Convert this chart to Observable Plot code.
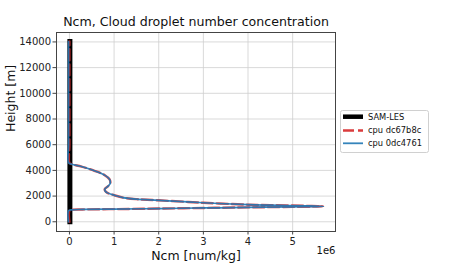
<!DOCTYPE html>
<html>
<head>
<meta charset="utf-8">
<script src="https://cdn.jsdelivr.net/npm/d3@7"></script>
<script src="https://cdn.jsdelivr.net/npm/@observablehq/plot@0.6"></script>
<style>
  html, body { margin: 0; padding: 0; background: white; }
</style>
</head>
<body>
<div id="chart"></div>
<script>
const title = "Ncm, Cloud droplet number concentration";
const xLabel = "Ncm [num/kg]";
const yLabel = "Height [m]";
const seriesNames = ["SAM-LES", "cpu dc67b8c", "cpu 0dc4761"];
const seriesColors = ["#000000", "#d62728", "#1f77b4"];

const xTicks = [0, 1e6, 2e6, 3e6, 4e6, 5e6];
const yTicks = [0, 2000, 4000, 6000, 8000, 10000, 12000, 14000];

// SAM-LES profile
const samHeight = [0, 2000, 4000, 6000, 8000, 10000, 12000, 14030];
const samNcm    = [0.01e6, 0.01e6, 0.01e6, 0.01e6, 0.01e6, 0.01e6, 0.01e6, 0.01e6];

// CLUBB profiles (path order, heights in m, Ncm in num/kg)
const profHeight = [0, 850, 930, 960, 985, 1030, 1075, 1120, 1160, 1195,
                    1240, 1290, 1330, 1480, 1670, 1760, 1880, 2070, 2250, 2400,
                    2540, 2750, 3000, 3300, 3630, 3970, 4300, 4480, 4600, 6000,
                    8000, 10000, 12000, 14030];
const ncmDc = [0, 0, 0.05e6, 0.3e6, 1.0e6, 2.0e6, 3.0e6, 4.0e6, 5.0e6, 5.68e6,
               5.3e6, 4.5e6, 4.0e6, 3.0e6, 2.0e6, 1.5e6, 1.2e6, 1.0e6, 0.85e6, 0.8e6,
               0.79e6, 0.86e6, 0.915e6, 0.9e6, 0.79e6, 0.56e6, 0.27e6, 0.05e6, 0, 0,
               0, 0, 0, 0];
const ncm0dc = [-0.02e6, -0.02e6, 0.05e6, 0.3e6, 1.0e6, 2.0e6, 3.0e6, 4.0e6, 5.0e6, 5.69e6,
               5.3e6, 4.5e6, 4.0e6, 3.0e6, 2.0e6, 1.5e6, 1.2e6, 1.0e6, 0.85e6, 0.8e6,
               0.79e6, 0.86e6, 0.915e6, 0.9e6, 0.79e6, 0.56e6, 0.27e6, 0.05e6, -0.02e6, -0.02e6,
               -0.02e6, -0.02e6, -0.02e6, -0.02e6];

const sam = samHeight.map((h, i) => ({h, v: samNcm[i]}));
const dc = profHeight.map((h, i) => ({h, v: ncmDc[i]}));
const zdc = profHeight.map((h, i) => ({h, v: ncm0dc[i]}));

const FONT = "DejaVu Sans, sans-serif";

const chart = Plot.plot({
  width: 450,
  height: 270,
  marginLeft: 56,
  marginRight: 115,
  marginTop: 32,
  marginBottom: 39,
  style: {fontFamily: FONT, fontSize: "9.5px", background: "white", color: "#222"},
  x: {domain: [-0.29e6, 5.96e6]},
  y: {domain: [-757, 14734]},
  marks: [
    Plot.gridX(xTicks, {stroke: "#cfcfcf", strokeOpacity: 1, strokeWidth: 0.8}),
    Plot.gridY(yTicks, {stroke: "#cfcfcf", strokeOpacity: 1, strokeWidth: 0.8}),
    Plot.line(sam, {x: "v", y: "h", stroke: seriesColors[0], strokeWidth: 5, strokeLinecap: "square"}),
    Plot.line(dc, {x: "v", y: "h", stroke: seriesColors[1], strokeWidth: 2.4, strokeOpacity: 0.8, strokeDasharray: "11,4", curve: "catmull-rom"}),
    Plot.line(zdc, {x: "v", y: "h", stroke: seriesColors[2], strokeWidth: 1.7, strokeOpacity: 0.9, curve: "catmull-rom"}),
    Plot.frame({stroke: "#444", strokeWidth: 1}),
    Plot.axisX(xTicks, {tickSize: 3.5, tickPadding: 3, tickFormat: d => String(d / 1e6), label: null, fontSize: 10, stroke: "#444"}),
    Plot.axisY(yTicks, {tickSize: 3.5, tickPadding: 2, tickFormat: d => String(d), label: null, fontSize: 10, stroke: "#444"}),
    Plot.text([title], {frameAnchor: "top", dy: -7, lineAnchor: "bottom", fontSize: 12.6, fill: "#111"}),
    Plot.text([xLabel], {frameAnchor: "bottom", dy: 24, lineAnchor: "middle", fontSize: 12.5, fill: "#111"}),
    Plot.text(["1e6"], {frameAnchor: "bottom-right", dy: 19, lineAnchor: "middle", textAnchor: "end", fontSize: 10, fill: "#111"}),
    Plot.text([yLabel], {frameAnchor: "left", dx: -46, rotate: -90, fontSize: 12.5, fill: "#111"})
  ]
});

document.getElementById("chart").appendChild(chart);

// Legend (outside right)
const svg = d3.select(chart);
const lg = svg.append("g").attr("font-family", FONT).attr("font-size", 8.3).attr("text-anchor", "start");
lg.append("rect").attr("x", 340.5).attr("y", 110.5).attr("width", 88).attr("height", 42)
  .attr("rx", 2).attr("fill", "white").attr("stroke", "#d0d0d0").attr("stroke-width", 1);
const styles = [
  {w: 4.5, dash: null, op: 1},
  {w: 2.6, dash: "11,4", op: 0.9},
  {w: 1.8, dash: null, op: 0.9}
];
const rowsY = [116.7, 130.5, 143.3];
seriesNames.forEach((name, i) => {
  lg.append("line").attr("x1", 343).attr("x2", 363).attr("y1", rowsY[i]).attr("y2", rowsY[i])
    .attr("stroke", seriesColors[i]).attr("stroke-width", styles[i].w)
    .attr("stroke-opacity", styles[i].op)
    .attr("stroke-dasharray", styles[i].dash);
  lg.append("text").attr("x", 368).attr("y", rowsY[i]).attr("dy", "0.35em")
    .attr("text-anchor", "start").attr("fill", "#111").text(name);
});
</script>
</body>
</html>
